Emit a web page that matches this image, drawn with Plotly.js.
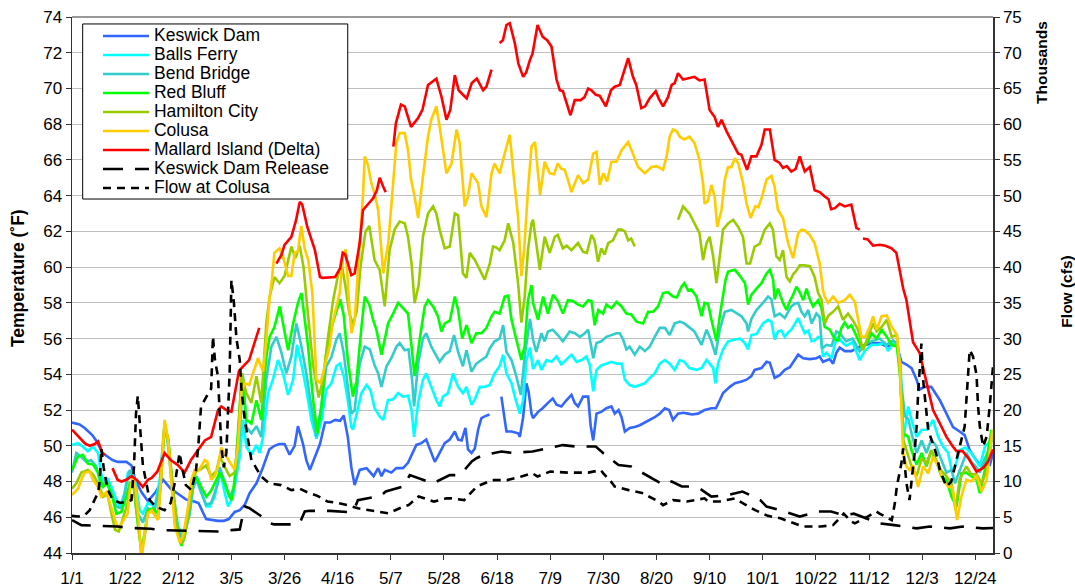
<!DOCTYPE html>
<html>
<head>
<meta charset="utf-8">
<script src="https://cdn.plot.ly/plotly-3.0.1.min.js"></script>
<style>html,body{margin:0;padding:0;background:#fff;}#chart{width:1075px;height:588px;}</style>
</head>
<body>
<div id="chart"></div>
<script>
// x = day of year (0 = 1/1), y = value ; null = gap in record
const tickLabels = ['1/1','1/22','2/12','3/5','3/26','4/16','5/7','5/28','6/18','7/9','7/30','8/20','9/10','10/1','10/22','11/12','12/3','12/24'];

const keswickDam = [[0,51.3],[3,51.2],[5,51.0],[8,50.6],[10,50.2],[12,49.6],[16,49.2],[18,49.1],[21.5,49.1],[23.5,48.9],[25,48.1],[27.5,47.4],[30,46.9],[33,47.4],[36,48.1],[39,47.6],[42,47.3],[45,47.0],[48,46.9],[50,46.8],[52,46.2],[53,45.9],[57.7,45.8],[60,45.8],[62,45.9],[64.3,46.3],[66.3,46.4],[68.3,46.7],[70.2,47.35],[72.9,47.9],[75.5,48.8],[78,49.8],[80,50.0],[82,50.1],[84,50.1],[86,49.5],[88,50.0],[89.3,51.1],[91.3,50.1],[92.6,49.2],[94,48.65],[96,49.4],[98,50.1],[100,51.3],[102,51.3],[104,51.45],[106,51.4],[107.4,51.7],[109,50.5],[110.4,48.8],[111.7,47.8],[113.7,48.65],[116.4,48.75],[119.2,48.3],[121,48.75],[122.3,48.3],[123.6,48.65],[126.2,48.5],[128.2,48.75],[130.8,48.75],[132.8,49.05],[136.1,50.05],[138.1,50.15],[140,50.35],[141.4,49.8],[143.4,49.1],[145.3,49.6],[147.3,50.15],[149.3,50.35],[151.3,50.8],[152.6,50.35],[154,50.3],[155.5,51.0],[156.5,49.8],[157.9,49.6],[159.2,49.85],[160.5,50.9],[161.8,51.55],[163.1,51.65],[165,51.75],[167,null],[169.7,52.75],[171.7,50.8],[173.7,50.8],[176.3,50.7],[177,50.5],[178.3,51.6],[179.6,53.5],[180.5,53.0],[181.6,51.8],[182.2,51.55],[184.2,51.9],[186,52.1],[188.1,52.4],[190,52.65],[191.5,52.3],[193.4,52.2],[195.4,52.55],[197.4,52.85],[198.7,52.4],[200,52.2],[202,52.75],[204,52.75],[205,51.1],[206,50.3],[207.3,51.8],[209.2,51.9],[211.2,52.1],[213.2,52.2],[214.5,51.8],[216,52.0],[217.2,51.6],[218.5,50.8],[220.4,51.0],[222.4,51.05],[224.4,51.15],[226.4,51.3],[228.3,51.45],[230.3,51.6],[232.3,51.8],[234.3,52.1],[236,52.0],[237.5,51.45],[239.5,51.8],[241.5,51.85],[243.5,51.8],[245,51.75],[247.4,51.8],[250,52.0],[252.7,52.1],[254.5,52.1],[256,52.55],[257.3,52.95],[260,53.3],[262,53.5],[264.6,53.6],[266.6,53.7],[268.5,53.9],[269.8,54.25],[272.5,54.35],[274.5,54.7],[275.8,54.65],[277.7,53.8],[279.7,53.95],[281.7,54.25],[283.7,54.4],[285.6,54.8],[287,55.1],[289,54.9],[291.6,54.85],[294.2,54.9],[295.5,55.0],[296.8,54.7],[298,54.75],[299.5,54.85],[300.8,54.6],[302.1,55.2],[303.4,55.5],[305.4,55.3],[308,55.3],[311.3,55.55],[314,55.65],[316.6,55.75],[319.2,55.75],[322,55.55],[324.5,55.65],[326,55.6],[327.8,54.7],[329.8,54.55],[331.8,54.35],[333.8,53.7],[335,53.15],[337,53.3],[339.6,53.3],[343,52.55],[345.6,51.8],[348.2,51.05],[350.8,50.8],[352.8,50.6],[354.8,49.75],[356.8,49.3],[358.8,48.95],[360.8,49.1],[362.8,48.95],[364,49.6]];

const ballsFerry = [[0,50.05],[2.4,50.15],[4.3,49.95],[6.3,49.7],[8.3,49.95],[10.3,49.6],[11.6,48.4],[12.9,47.9],[14,48.2],[15.6,47.7],[17.5,47.0],[18.9,46.6],[20.8,47.35],[22.1,48.5],[23.5,48.55],[25,48.0],[26.8,46.4],[28,46.2],[30,46.8],[32.7,46.6],[34.7,48.1],[36.6,51.25],[38,50.3],[40,47.35],[41.9,45.5],[43.9,44.95],[46.5,46.2],[47.8,47.7],[49.2,48.3],[50.5,47.9],[51.8,47.15],[53.1,46.6],[54.5,46.6],[56.4,47.15],[57.7,48.1],[58.5,48.6],[60.4,47.35],[61.7,46.6],[63.6,47.15],[66.3,49.4],[67.6,51.45],[68.9,49.95],[70.9,49.5],[72.9,50.05],[74.2,49.6],[75.5,50.5],[77.5,52.95],[79.4,53.7],[81.4,54.8],[83.4,54.05],[85.4,52.85],[87.4,53.7],[88.9,55.65],[90.7,54.55],[92.6,53.15],[94.6,51.45],[96.6,50.4],[98.6,51.45],[100.5,53.15],[102.5,53.5],[104.5,54.45],[105.8,54.6],[107.4,53.9],[109,52.55],[110.4,51.05],[111,50.9],[112.5,51.8],[114.4,52.95],[116.4,53.4],[118,53.1],[119.6,52.1],[121.6,51.65],[123,51.45],[124.9,52.55],[126.9,52.6],[128.9,52.95],[130.8,52.75],[132.8,52.8],[134.2,52.0],[135.2,50.5],[136.8,52.4],[138.7,53.7],[140,54.05],[142,53.3],[144,52.55],[145.3,52.2],[146.6,52.75],[148.6,52.95],[150.6,54.05],[152.6,53.3],[154.5,52.95],[155.9,53.3],[157.9,52.3],[159.2,52.6],[161.2,53.3],[163.1,53.3],[165.1,53.4],[167,54.05],[169,54.45],[170.4,55.1],[171.7,54.05],[173.7,53.5],[175,52.75],[177,51.8],[178.3,52.55],[179.6,54.8],[181,55.5],[182.2,54.3],[184.2,54.8],[185.5,54.25],[187.5,54.8],[189.5,54.7],[191.5,55.0],[193.4,54.55],[195.4,54.8],[197.4,55.1],[199.4,54.7],[201.4,54.8],[203.3,55.0],[204.6,54.55],[206,53.05],[207.3,54.25],[209.2,54.5],[211.2,54.6],[213.2,54.7],[215.2,54.6],[217.2,54.6],[218.5,53.7],[220.4,53.4],[222.4,53.3],[224.4,53.4],[226.4,53.5],[228.3,53.8],[230.3,54.05],[232.3,54.6],[234.3,54.8],[236.2,54.6],[238.2,54.25],[240.2,54.8],[242,54.7],[244,54.35],[246.8,54.25],[248.8,54.35],[250.8,54.8],[252,54.6],[253.4,54.35],[254.3,53.5],[255.3,54.6],[257.3,55.4],[259.3,55.85],[262,55.95],[264,56.0],[265.9,55.75],[267.2,55.4],[268.5,56.2],[270.5,56.25],[273.1,56.85],[275.1,57.05],[276.4,56.95],[277.7,55.95],[279,56.4],[280.3,56.45],[281.7,56.1],[283,56.35],[284.3,56.5],[285.6,56.85],[287,57.15],[288.3,56.7],[289.6,56.3],[291,56.45],[292.3,55.85],[293.6,55.9],[294.9,56.1],[296,56.0],[296.8,55.0],[298.2,55.2],[300.2,54.9],[301.5,55.7],[302.7,56.1],[304,55.85],[306,55.6],[308.5,55.8],[311.3,54.8],[313.3,55.3],[316,55.65],[318.5,55.65],[321.2,55.75],[322.5,55.3],[324.5,55.75],[326.3,55.6],[327.5,54.5],[328.5,50.35],[330.5,52.2],[331.8,51.45],[333.8,50.5],[335.8,50.9],[338,50.9],[340.3,51.45],[342.3,50.5],[344.3,49.95],[346.3,49.6],[347.6,48.65],[349,48.8],[350.8,49.75],[353,49.9],[355.4,49.6],[357.5,49.1],[358.8,48.85],[360.8,49.95],[362.8,50.25],[364,50.3]];

const bendBridge = [[0,48.5],[1.7,49.6],[3.5,49.4],[5.7,49.1],[7.5,49.2],[9.6,48.85],[11.6,47.7],[13.5,48.0],[15.6,47.35],[17.5,46.6],[19.5,46.5],[21.5,47.7],[22.8,48.65],[24.3,48.2],[26.1,46.2],[28,45.7],[30,46.5],[32.5,46.3],[34.7,47.8],[36.6,51.2],[38,50.0],[40,47.0],[41.9,45.3],[43.9,44.7],[46.5,46.2],[47.8,47.6],[49.2,48.1],[51,47.4],[53,46.7],[55,46.8],[57.7,47.9],[58.4,48.8],[60.4,47.9],[62.3,47.15],[64,47.6],[66.3,50.7],[67.6,53.9],[68.9,51.05],[70.9,50.7],[72.9,51.1],[74.8,50.5],[76.8,53.7],[78.8,55.55],[80.8,56.1],[82.8,55.2],[84.7,54.05],[86.7,55.0],[88.7,56.85],[90.7,55.55],[92.6,54.05],[94.6,52.2],[96.6,50.5],[98.6,52.3],[100.5,54.45],[102.5,54.95],[104.5,55.95],[105.8,56.3],[107.4,55.2],[109,53.3],[110.4,51.8],[111.7,52.0],[113.7,54.6],[115.7,55.55],[117.7,55.4],[119.6,54.5],[121,54.05],[122.3,53.3],[124.3,54.45],[126.2,54.9],[128.2,55.55],[129.5,55.75],[131.5,55.35],[133,55.4],[134.4,53.7],[135.2,52.2],[136.8,54.6],[138.7,56.0],[140,56.3],[142,55.55],[144,55.0],[145.3,54.7],[147.3,55.1],[149.3,55.3],[151,56.2],[152.6,55.25],[154.5,54.45],[155.9,55.35],[157.9,54.15],[159.8,54.6],[161.8,54.8],[163.8,55.0],[165.1,55.45],[167,55.85],[169,56.0],[170.4,56.75],[171.7,55.25],[173.7,54.8],[175.6,53.9],[177.4,52.85],[179,55.1],[181,57.1],[182.2,55.95],[183.5,55.25],[185.5,56.3],[186.8,55.85],[188.1,56.4],[190,56.5],[192,56.2],[194,55.85],[196.7,56.4],[198.7,56.3],[200.7,56.1],[202.7,56.3],[204,56.5],[206,54.9],[207.3,55.75],[209.2,55.85],[211.2,56.1],[213.2,56.2],[215.2,56.3],[216.5,56.3],[217.8,55.95],[219.1,55.4],[220.4,55.55],[222.4,55.1],[224.4,55.55],[226.4,55.3],[228.3,55.55],[230.3,56.1],[232.3,56.6],[234.3,56.6],[236.2,56.2],[238.2,56.85],[240.2,56.95],[242,56.85],[244,56.65],[246,56.4],[248.8,55.65],[250.8,56.5],[252.7,55.85],[254.3,55.1],[256,56.5],[258,57.5],[260.6,57.6],[262.6,57.4],[264.6,57.25],[266.6,56.85],[267.2,56.4],[268.5,57.1],[270.5,57.6],[273.1,58.0],[275.1,58.35],[276.4,58.2],[277.7,57.25],[279.7,57.4],[281.7,57.15],[283,57.5],[284.3,57.8],[285.6,57.95],[287,58.0],[288.3,57.5],[289.6,57.25],[291,57.6],[292.3,56.85],[294.2,57.4],[295.5,57.2],[296.4,55.45],[298.2,55.65],[300.2,55.6],[302.1,56.4],[303.4,56.3],[306,55.85],[308.5,56.0],[311.3,55.3],[313.9,55.75],[316.6,55.9],[319.2,56.0],[322,55.65],[324.5,55.9],[326.3,55.7],[327.5,53.8],[329.2,51.65],[330.5,51.5],[331.8,50.7],[333.8,49.6],[335.8,50.3],[337.7,49.6],[339.6,50.35],[341.5,50.0],[343.6,49.2],[345.6,48.5],[347.6,48.65],[349,47.9],[350.8,48.6],[353.5,49.6],[355.4,49.1],[357.5,48.8],[358.8,48.5],[360.8,49.3],[363.4,50.0]];

const redBluff = [[0,48.65],[2.4,49.4],[4.3,49.5],[6.3,49.0],[8.3,48.95],[10.3,48.5],[12.3,47.7],[14,47.9],[16.2,47.0],[17.5,46.2],[19.5,46.3],[21.5,47.15],[22.8,47.9],[24.3,47.8],[26.1,45.5],[27.4,44.2],[28.7,45.1],[30,46.4],[32,46.5],[34,46.2],[35.3,48.5],[36.6,51.1],[38,50.4],[40,47.3],[41.9,45.1],[43.2,44.4],[44.5,44.9],[46.5,46.6],[47.8,47.9],[49.2,48.2],[51.1,47.7],[53.1,47.15],[55,47.5],[57.1,48.1],[58.4,48.5],[60.4,47.9],[61.7,47.35],[63,46.95],[64.3,48.1],[66.3,52.2],[67.3,54.05],[68.9,51.45],[70.9,51.25],[72.9,52.55],[74.8,51.45],[76.8,55.0],[78.1,56.1],[80,56.65],[82.1,57.8],[83.4,56.85],[85.4,55.35],[87.4,56.85],[89.3,58.0],[90.7,58.55],[92,57.05],[93.3,55.55],[95.3,52.55],[97,50.7],[98.6,52.2],[100.5,55.2],[102.5,56.6],[104.5,57.6],[106,58.2],[107.4,57.3],[109,54.8],[111,52.75],[112.4,53.6],[114.4,56.65],[115.7,58.35],[117.5,57.9],[119,57.05],[120.3,56.5],[122.3,55.1],[123.6,55.95],[124.9,56.85],[126.9,57.4],[128.9,58.0],[130.8,57.7],[132.8,57.4],[134.2,55.55],[135.4,53.9],[137.4,55.95],[139.4,57.8],[140.7,58.15],[142.7,57.8],[144.6,57.25],[146,56.4],[147.3,56.85],[149.3,57.0],[151.3,58.35],[152.6,57.6],[154.2,56.0],[155.9,56.75],[157.9,55.75],[159.8,56.3],[161.8,56.3],[163.8,56.6],[165.8,57.25],[167,57.5],[169,57.4],[171,58.35],[172.4,58.4],[173.7,57.05],[175.6,55.95],[177.6,54.8],[178.9,55.6],[180.2,58.15],[181.6,59.0],[182.2,58.0],[184.2,57.05],[186.2,58.35],[188.1,57.4],[190.1,58.45],[192,58.1],[194,57.4],[196,58.15],[198,58.1],[200,57.9],[202,57.8],[204,58.15],[205.3,58.1],[206.6,56.75],[208,57.6],[209.9,57.4],[211.2,57.9],[213.2,57.7],[215.2,58.05],[217.2,57.8],[219.1,57.4],[221,57.35],[223.1,56.95],[225.7,56.85],[227.7,57.5],[229.7,57.5],[231.6,57.8],[233.6,58.55],[235.5,58.6],[237.5,58.35],[239,58.3],[240.9,58.9],[242,59.1],[243.5,58.7],[244.8,58.75],[246.8,58.35],[248.8,57.25],[250,58.0],[251.4,57.95],[252.7,57.05],[254.7,55.85],[256,57.25],[257.3,58.55],[258.3,59.3],[259.3,59.75],[262,59.85],[264,59.5],[266,59.1],[267.2,57.9],[268.5,58.45],[270.5,58.8],[272.5,59.1],[274.5,59.65],[275.8,59.85],[277.1,59.3],[277.7,58.2],[279,58.8],[281,58.0],[282.4,57.6],[283.7,58.1],[285,58.45],[286.3,58.9],[287.6,58.6],[289,58.15],[290.3,58.8],[291.6,58.2],[292.9,57.8],[294.9,58.15],[296.2,57.7],[297.5,56.65],[299.5,56.5],[301.5,55.95],[302.8,55.9],[304.1,56.6],[305.4,56.9],[306.7,56.6],[308,56.75],[310,56.1],[312,55.55],[314,55.7],[316,56.3],[318,56.0],[320,56.5],[322,56.1],[324,55.65],[326,55.55],[327.2,54.05],[328.5,50.7],[330.5,50.5],[331.8,49.75],[333.8,48.95],[335.8,49.6],[337.7,48.85],[339.6,49.75],[341.5,49.2],[343.6,48.3],[345.6,48.1],[347.6,47.15],[349.6,46.6],[351.5,48.45],[353.5,48.5],[355.4,48.3],[357.5,48.1],[358.8,47.35],[360.8,48.65],[363.4,50.9]];

const hamiltonCity = [[0,47.6],[1.7,47.9],[3.7,48.5],[6.3,48.65],[8.3,48.4],[10.3,47.9],[12.3,47.15],[14,47.3],[15.6,46.2],[17,45.3],[18.5,45.2],[20,45.9],[22,46.8],[23,47.8],[24.3,47.9],[26.1,45.7],[27.4,44.0],[28.7,44.9],[30,46.3],[32,46.3],[34,45.9],[35.3,48.3],[36.6,51.3],[38,50.3],[40,47.6],[41.9,45.0],[43.2,44.5],[44.5,44.9],[46.5,46.6],[47.8,48.1],[49.2,48.6],[51,48.7],[53,48.9],[55,48.3],[57.1,48.6],[58.4,49.4],[60.4,48.8],[62.3,48.3],[64.3,48.5],[65.7,50.5],[67,54.05],[68.9,52.95],[70.9,52.4],[72.9,53.9],[74.8,52.4],[76.8,56.85],[78.1,58.35],[80,59.45],[82,59.1],[84,59.5],[86.7,61.15],[88.3,60.5],[90,61.2],[91.5,60.0],[93.3,57.3],[95.3,54.5],[97.5,52.7],[99.2,53.7],[101.2,56.1],[103.2,58.15],[105,59.45],[106.5,60.2],[108,59.0],[109.5,57.5],[111,56.8],[112.5,57.5],[114,60.0],[116,62.0],[117.5,62.3],[119.6,60.4],[121.6,59.85],[123.6,57.8],[125.5,60.95],[127.5,62.1],[129.5,62.55],[131.5,62.45],[132.8,61.7],[134.2,60.2],[135.4,57.98],[137,59.0],[138.7,61.7],[140.7,63.0],[142.7,63.4],[144,63.0],[145.3,62.1],[147.3,61.05],[149.3,61.15],[151.3,63.0],[152.6,62.9],[154.5,59.65],[155.9,59.4],[157.2,60.8],[159.2,60.4],[161.2,59.85],[163.1,59.3],[165.1,60.2],[166.4,61.15],[167.7,61.1],[169,60.95],[171,61.5],[172.4,62.45],[174.4,61.35],[176.3,59.1],[177.6,56.9],[178.9,58.3],[180.2,60.95],[181.6,62.45],[182.2,62.65],[183.5,61.35],[184.9,59.85],[186.8,61.7],[188.8,60.8],[190.8,61.7],[192,61.8],[194,61.05],[195.5,61.2],[197.4,60.95],[200,61.35],[202,60.85],[203.5,60.8],[205.3,61.8],[206.5,61.5],[207.9,60.3],[209.2,61.05],[210.5,60.7],[211.9,61.35],[213.8,61.5],[215.8,62.1],[217.2,62.1],[218.5,62.0],[219.8,61.5],[221,61.6],[222.4,61.15],[230,null],[239.5,62.65],[241.5,63.4],[244,63.0],[246,62.45],[247,62.1],[248,61.9],[249.4,60.4],[250.8,61.35],[252,61.7],[253.4,60.6],[254.7,59.1],[256,60.5],[257.3,62.1],[259.3,62.45],[261.3,62.65],[263.3,62.25],[265.2,61.7],[266.6,60.2],[268,60.2],[269.8,61.15],[271.8,61.3],[273.8,62.1],[275.8,62.45],[277,62.1],[278.4,60.6],[279.7,60.4],[281,60.95],[282.4,59.45],[283.7,59.2],[285,59.6],[286.3,59.8],[287.6,60.1],[289.6,60.1],[291.6,60.05],[293.5,59.45],[294.9,58.55],[296.2,58.2],[297.5,56.85],[299,57.3],[300.8,57.5],[302.8,57.8],[304.7,57.05],[306.7,57.4],[308.7,57.0],[310.7,56.5],[312.6,55.35],[314.6,56.1],[316.6,56.85],[318,56.4],[320,56.65],[322,57.05],[324,56.1],[326,56.2],[327.2,54.25],[328.5,50.35],[330.5,49.4],[331.8,48.85],[333.8,48.3],[335.8,49.3],[337.7,49.0],[339.6,49.75],[341.5,49.2],[343.6,48.6],[345.6,48.3],[347.6,47.9],[349.2,46.4],[350.8,48.1],[353.5,48.85],[355.4,48.4],[357.5,48.4],[359.5,47.9],[361.5,48.6],[363.8,50.7]];

const colusa = [[0,47.25],[2.4,47.6],[3.7,48.1],[5,48.5],[7,48.55],[8.3,48.1],[10.3,47.7],[11.6,47.15],[13.5,47.4],[15,46.8],[17,45.85],[18.2,45.4],[20,45.75],[22,46.2],[22.8,47.35],[24,48.3],[25.3,47.5],[26.8,45.1],[27.4,43.5],[28.7,45.1],[30,46.2],[31.5,46.4],[32.7,46.1],[34,45.85],[35.3,48.5],[36.6,51.45],[38,50.3],[39.3,48.1],[40.6,45.5],[42.6,44.6],[43.9,44.95],[45.9,46.6],[47.2,48.1],[48.5,48.65],[50,48.6],[51,48.85],[52.5,49.2],[53.5,49.1],[55,48.1],[56.4,48.3],[57.7,48.85],[59,49.9],[60.5,49.5],[62.3,49.1],[64.3,48.65],[65.6,49.95],[67,53.1],[68.3,53.5],[70,53.4],[71.5,54.05],[73.5,54.9],[75.5,54.15],[76.8,55.9],[78,58.15],[79,59.3],[80,60.8],[82,61.05],[83.4,60.6],[85.4,59.5],[86.7,59.5],[88,60.8],[89.3,60.9],[90.6,62.3],[92,61.0],[93.4,60.4],[95,58.5],[96.6,53.7],[98.2,53.5],[99,53.9],[100.5,54.8],[101.8,55.55],[103,56.85],[104.5,57.8],[105.8,58.55],[107,60.5],[108.2,61.0],[109.5,58.0],[110.4,56.3],[111.7,57.0],[113.7,61.3],[115,64.0],[115.7,66.2],[117,65.7],[118.3,64.7],[119.6,64.1],[121,63.2],[123,59.65],[125,61.35],[127,64.7],[128.2,66.95],[129.5,67.5],[131.5,67.5],[132.8,66.55],[134,64.9],[135.4,63.95],[136.8,62.75],[138.7,65.05],[140.7,67.3],[142,68.25],[144,69.0],[145.3,67.85],[146.6,66.55],[148,65.25],[150,65.8],[152,67.7],[153.2,66.95],[155.2,63.4],[156.5,63.95],[157.9,65.25],[160.5,64.7],[161.8,63.4],[163.8,62.8],[165.8,65.25],[167,65.8],[169,65.25],[171,66.35],[173,67.4],[175,64.5],[176.3,62.8],[177.6,59.5],[178.7,60.95],[180.2,64.3],[181.6,66.75],[183,67.0],[184.2,65.45],[185,64.05],[186.8,65.9],[188.8,65.25],[190.5,65.2],[192,65.8],[193.4,65.5],[194.7,65.45],[196,64.9],[197.4,64.2],[200,65.15],[202,64.7],[204,64.9],[206,66.35],[207.3,66.45],[208.6,64.6],[210,65.25],[211.5,64.8],[213.2,65.9],[215.2,65.9],[217.2,66.55],[219.8,67.0],[221.7,66.35],[223.7,65.6],[226.4,65.25],[229,65.6],[231,65.65],[233.6,65.45],[235,66.2],[236.2,67.3],[237.5,67.7],[239,67.6],[240.2,67.3],[242,67.15],[244,67.3],[246,66.95],[248,66.0],[249.4,64.7],[250,63.55],[251.3,63.7],[252.7,64.6],[254,63.95],[255,62.25],[256.7,63.2],[258,64.9],[259.3,65.6],[260.6,65.6],[262,66.1],[263.3,65.8],[265.2,64.7],[266.6,63.55],[268.2,62.75],[270,63.4],[271.3,63.35],[272.7,63.95],[274.5,64.9],[276.4,65.1],[277.7,64.5],[279,63.2],[281,62.75],[283,61.35],[285,60.5],[287,61.9],[288.3,62.1],[289.6,62.05],[291.6,61.8],[293.5,61.35],[295.5,60.2],[296.8,58.7],[297.5,58.35],[298.8,58.0],[300.8,58.35],[302.8,58.0],[305.4,58.15],[307.4,58.45],[309.4,58.05],[312,56.1],[313.5,56.1],[315.3,56.65],[316.6,57.25],[318,56.5],[320,57.25],[322,57.3],[324,56.65],[326,56.2],[327.2,54.45],[328.5,49.6],[329.8,48.85],[331,48.65],[332.5,48.9],[334.4,47.7],[336.4,48.85],[338.4,48.45],[340.3,49.4],[342.3,48.85],[344.3,48.1],[346.3,47.7],[348,47.7],[349.8,45.85],[351.5,47.15],[353.5,48.1],[355.4,48.0],[357.5,48.3],[359.5,47.45],[361.5,48.1],[363.8,50.9]];

const mallardIsland = [[0,50.9],[2,50.6],[5,50.15],[7,50.0],[9,50.1],[10.3,50.25],[12,49.6],[13,49.5],[14.5,null],[16,48.75],[18,48.1],[19.5,48.0],[21.5,48.1],[23.5,48.3],[25.5,48.1],[28,47.7],[30,48.1],[31.5,48.2],[33.7,48.55],[36.6,49.6],[39,49.2],[42,48.9],[44.5,48.5],[47,49.2],[50,49.8],[52.5,50.3],[55,50.5],[57.7,52.0],[59,52.2],[61,52.0],[63,51.9],[66,54.2],[68,54.5],[70,54.8],[72,55.7],[74,56.6],[77,null],[80.8,60.2],[82.8,60.7],[84,61.25],[86.7,61.7],[88.5,62.6],[90,63.65],[91,63.5],[93,62.25],[96,60.95],[98,59.45],[99,59.4],[102,59.45],[104,59.45],[106,59.95],[107,60.8],[108,60.7],[110.4,59.55],[111.7,59.65],[113.7,61.35],[115,63.2],[117.7,63.65],[119,63.85],[120.5,64.3],[121.6,65.0],[123,64.5],[124,64.2],[125.5,null],[127,66.75],[128,68.05],[130,69.1],[131.5,69.0],[134,67.85],[135.5,68.1],[136.8,68.35],[138.5,68.8],[140.7,70.2],[144,70.55],[146,69.55],[148,68.25],[149.5,68.8],[151.3,70.75],[152.8,69.9],[154.5,69.65],[156,69.45],[158,70.3],[160,70.55],[162.5,69.9],[163.8,70.1],[165.8,71.05],[167.5,null],[169,72.55],[170.3,72.7],[171.7,73.55],[173,73.65],[175,72.55],[176.4,71.4],[178.3,70.65],[179.5,70.9],[181,71.6],[182,71.95],[184,73.55],[186,72.9],[187.8,72.7],[189.5,72.35],[191.5,70.5],[192.8,69.9],[194,69.85],[195.4,69.25],[197,68.5],[198.7,69.35],[201,69.35],[202.5,69.5],[204,70.0],[205.3,69.9],[207,69.65],[208.5,69.6],[211,69.0],[213,69.9],[214.5,70.1],[216.5,70.2],[217.8,70.75],[219.8,71.7],[221.7,70.65],[223,70.2],[225,68.9],[226.5,69.0],[228.3,69.45],[230.7,69.85],[232,69.4],[233.6,69.0],[235.5,69.5],[237,70.2],[238.2,70.3],[239.5,70.85],[241.5,70.5],[244,70.6],[246,70.65],[248,70.45],[250,70.5],[252,68.8],[254,68.4],[255.3,67.85],[256.7,68.25],[258.7,67.6],[260.6,67.1],[263.3,66.35],[264.5,66.3],[266.8,65.45],[268.5,66.2],[270.5,66.2],[272.5,66.85],[273.8,67.7],[275.8,67.7],[277.7,66.0],[279.5,65.85],[281,65.55],[282.5,65.65],[284.3,65.35],[286,65.5],[287.6,66.2],[289.6,65.35],[291.6,65.6],[293.5,64.3],[295.5,64.2],[297.5,63.95],[299,63.8],[300,63.25],[301.5,63.3],[303.4,63.55],[305.4,63.4],[308,63.5],[310,62.2],[311.3,62.1],[312,null],[312.6,61.6],[314.5,61.55],[316.6,61.2],[319.2,61.25],[321.5,61.2],[323.9,61.05],[325.8,60.8],[327,60.0],[328.5,58.8],[329.8,58.15],[332.4,55.8],[335,55.2],[337.7,53.5],[340.3,52.0],[343,51.25],[345.6,50.5],[348.2,49.95],[349.6,49.7],[352,49.7],[354.3,49.3],[357.5,48.55],[360,48.75],[362,49.1],[364,49.8]];

// flows in thousands of cfs
const keswickRelease = [[0,4.6],[3.7,3.9],[9.6,3.8],[18,3.7],[23.5,3.5],[31,3.4],[36,3.2],[44.5,3.1],[49,3.1],[57.7,3.0],[63,3.2],[66.3,3.3],[67.3,5.0],[68.3,6.5],[70,6.3],[75,5.1],[78,4.2],[80,4.0],[87,4.0],[90,4.2],[92,5.8],[94,5.9],[97,5.9],[102,5.9],[110,5.7],[112,6.5],[113,7.4],[120,7.8],[122,8.0],[124,8.6],[131,9.3],[133.5,10.9],[138.7,10.2],[141,10.0],[142.7,9.75],[149.3,10.9],[152,10.9],[154,11.15],[158,12.8],[160,13.3],[162.5,13.7],[169.7,14.2],[174,14.0],[182,14.2],[187,14.6],[194,15.1],[199,14.9],[207,14.9],[210,13.95],[216,12.3],[221,12.1],[227,10.9],[231,10.2],[234,9.5],[237,10.0],[241,9.3],[244,9.3],[248,9.05],[252.7,7.9],[259.3,8.1],[265,8.6],[272,7.4],[274.5,6.5],[281.7,5.8],[287.6,5.1],[294.9,5.8],[300,5.8],[305,5.3],[309,5.5],[312,5.1],[319,4.15],[325,3.9],[333.8,3.45],[339,3.7],[347,3.45],[352,3.7],[360,3.45],[364,3.5]];

const colusaFlow = [[0,5.2],[2.4,5.1],[5,5.3],[7,6.0],[9,7.5],[10.3,8.4],[11,10.2],[11.6,14.6],[12.5,12.0],[14,9.0],[16,7.5],[19,7.0],[22,7.2],[23.5,7.4],[24.5,12.0],[25.3,19.5],[26,22.0],[26.8,18.0],[27.4,14.9],[28,12.3],[30.7,7.4],[33,6.5],[36.6,6.0],[39,7.0],[41,10.5],[42.5,14.0],[43.5,12.0],[45,9.5],[47.2,8.8],[49,11.5],[50,15.4],[51,20.5],[53.5,22.1],[55,23.0],[55.7,30.3],[56.5,27.0],[57.7,24.7],[59,14.9],[60,12.0],[61,14.0],[62.3,25.1],[63,38.2],[64,35.0],[65,30.0],[66.3,27.0],[67,22.8],[68.3,18.6],[70.9,13.0],[74.8,10.7],[78,9.75],[82.7,9.5],[86.7,8.8],[90,9.0],[93,8.5],[97,8.0],[101,7.2],[105,7.0],[109,6.7],[113,6.25],[120,5.8],[125,5.55],[131,6.5],[133,6.7],[137,7.9],[140,7.5],[143,7.2],[148,7.65],[150,7.65],[155,7.4],[160,9.3],[166,10.2],[172,10.2],[177.6,10.7],[182,11.15],[184,10.7],[189,11.4],[196,11.25],[204,11.25],[209,11.6],[210,11.15],[213,10.0],[214.5,9.3],[220,8.8],[226,8.35],[228,7.9],[232,7.2],[233.6,6.7],[237.5,7.4],[243,7.2],[250,7.65],[251.4,7.2],[256,7.2],[262,7.65],[263,7.4],[270,6.0],[275,5.2],[280,4.85],[282,4.6],[287,3.9],[289,3.7],[294,3.7],[296,3.7],[300.8,3.9],[302.7,4.6],[305,5.5],[308,4.4],[309.4,4.15],[314,5.0],[318,5.8],[319,5.55],[324,4.6],[325.2,6.95],[326,9.3],[327.8,12.55],[328.5,14.65],[329.8,9.75],[331,7.4],[333,13.95],[333.8,17.7],[334.4,22.3],[335.7,29.3],[336.4,24.2],[337.7,19.5],[338.4,17.2],[341.5,13.95],[343,11.6],[345.6,9.3],[347.5,10.0],[350.2,13.95],[351.5,15.8],[352.8,17.7],[354.1,24.7],[354.8,28.4],[356.1,27.5],[357.5,24.9],[358.1,20.5],[358.8,17.7],[360.1,14.9],[361.5,16.3],[362.8,20.9],[363.4,23.7],[364,26.1]];

const FONT = 'Arial, "Liberation Sans", sans-serif';
const TICKFONT = {family: FONT, size: 17, color: '#000000'};
const xs = a => a.map(p => p[0]);
const ys = a => a.map(p => p[1]);
const legendName = s => '<span style="font-size:17.5px">' + s + '</span>';

function tempTrace(name, data, color) {
  return {x: xs(data), y: ys(data), name: legendName(name), type: 'scatter', mode: 'lines',
          line: {color: color, width: 2.6}, connectgaps: false, yaxis: 'y'};
}
function flowTrace(name, data, dash) {
  return {x: xs(data), y: ys(data), name: legendName(name), type: 'scatter', mode: 'lines',
          line: {color: '#000000', width: 2.6, dash: dash}, yaxis: 'y2'};
}

const traces = [
  tempTrace('Keswick Dam', keswickDam, '#3366FF'),
  tempTrace('Balls Ferry', ballsFerry, '#00FFFF'),
  tempTrace('Bend Bridge', bendBridge, '#33CCCC'),
  tempTrace('Red Bluff', redBluff, '#00FF00'),
  tempTrace('Hamilton City', hamiltonCity, '#99CC00'),
  tempTrace('Colusa', colusa, '#FFCC00'),
  tempTrace('Mallard Island (Delta)', mallardIsland, '#FF0000'),
  flowTrace('Keswick Dam Release', keswickRelease, '20px,12px'),
  flowTrace('Flow at Colusa', colusaFlow, '8px,6px')
];

const layout = {
  width: 1075, height: 588,
  margin: {l: 72, r: 82, t: 17, b: 35, pad: 0},
  paper_bgcolor: '#ffffff', plot_bgcolor: '#ffffff',
  font: {family: FONT, size: 14, color: '#000000'},
  showlegend: true,
  legend: {x: 0.0282, y: 0.9916, xanchor: 'left', yanchor: 'top', bgcolor: 'rgba(0,0,0,0)',
           borderwidth: 0, font: {family: FONT, size: 12, color: '#000'},
           itemwidth: 46, tracegroupgap: 0},
  xaxis: {range: [0, 364], tickmode: 'array', tickvals: tickLabels.map((_, i) => i * 21),
          ticktext: tickLabels, showgrid: false, zeroline: false, showline: true,
          linecolor: '#333333', linewidth: 1.5, ticks: 'outside', ticklen: 5, tickcolor: '#333333',
          ticklabelstandoff: 4, tickfont: TICKFONT},
  yaxis: {range: [44, 74], dtick: 2, tick0: 44, showgrid: true, gridcolor: '#c0c0c0', gridwidth: 1,
          zeroline: false, showline: true, linecolor: '#333333', linewidth: 1.5, ticks: 'outside',
          ticklen: 5, tickcolor: '#333333', tickfont: TICKFONT},
  yaxis2: {range: [0, 75], dtick: 5, tick0: 0, overlaying: 'y', side: 'right', showgrid: false,
           zeroline: false, showline: true, linecolor: '#333333', linewidth: 1.5, ticks: 'outside',
           ticklen: 5, tickcolor: '#333333', tickfont: TICKFONT},
  shapes: [
    {type: 'line', xref: 'paper', yref: 'paper', x0: 0, x1: 1, y0: 1, y1: 1,
     line: {color: '#999999', width: 2}},
    {type: 'rect', xref: 'paper', yref: 'paper', x0: 0.0116, x1: 0.2994, y0: 0.6604, y1: 0.987,
     fillcolor: '#ffffff', line: {color: '#000000', width: 1}, layer: 'above'}
  ],
  annotations: [
    {text: '<b>Temperature (˚F)</b>', xref: 'paper', yref: 'paper', x: -0.0586, y: 0.513,
     xanchor: 'center', yanchor: 'middle', textangle: -90, showarrow: false,
     font: {family: FONT, size: 17.5, color: '#000'}},
    {text: '<b>Thousands</b>', xref: 'paper', yref: 'paper', x: 1.052, y: 0.916,
     xanchor: 'center', yanchor: 'middle', textangle: -90, showarrow: false,
     font: {family: FONT, size: 15.5, color: '#000'}},
    {text: '<b>Flow (cfs)</b>', xref: 'paper', yref: 'paper', x: 1.080, y: 0.487,
     xanchor: 'center', yanchor: 'middle', textangle: -90, showarrow: false,
     font: {family: FONT, size: 15.5, color: '#000'}}
  ]
};

Plotly.newPlot('chart', traces, layout, {displayModeBar: false, staticPlot: true});
</script>
</body>
</html>
